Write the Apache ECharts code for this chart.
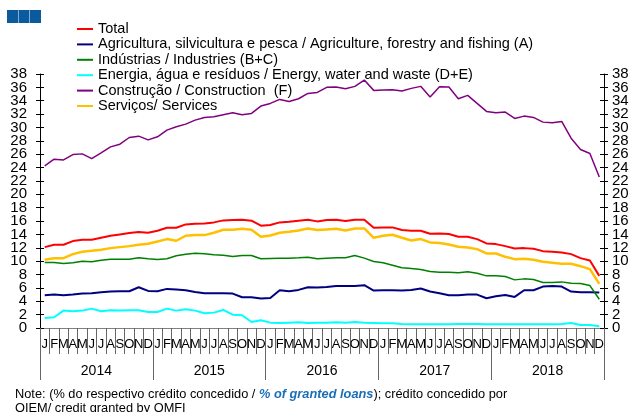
<!DOCTYPE html>
<html>
<head>
<meta charset="utf-8">
<script src="https://cdn.jsdelivr.net/npm/echarts@6/dist/echarts.min.js"></script>
<style>
  html, body { margin: 0; padding: 0; background: #fff; }
  #chart { width: 634px; height: 412px; }
</style>
</head>
<body>
<div id="chart"></div>
<script>
// months Jan 2014 .. Dec 2018
const monthLetters = ['J','F','M','A','M','J','J','A','S','O','N','D'];
const years = ['2014', '2015', '2016', '2017', '2018'];
const months = [];
years.forEach(y => monthLetters.forEach(m => months.push(m)));

const seriesNames = [
  'Total',
  'Agricultura, silvicultura e pesca / Agriculture, forestry and fishing (A)',
  'Indústrias / Industries (B+C)',
  'Energia, água e resíduos / Energy, water and waste (D+E)',
  'Construção / Construction  (F)',
  'Serviços/ Services'
];

const total = [
  12.1, 12.45, 12.45, 13.0, 13.2, 13.2, 13.5, 13.8, 14.0, 14.2, 14.35, 14.25,
  14.55, 15.0, 15.0, 15.5, 15.6, 15.65, 15.8, 16.1, 16.15, 16.2, 16.05, 15.3,
  15.4, 15.8, 15.9, 16.05, 16.2, 15.95, 16.15, 16.2, 16.0, 16.2, 16.2, 15.0,
  15.05, 15.05, 14.65, 14.55, 14.55, 14.1, 14.15, 14.05, 13.65, 13.65, 13.3, 12.65,
  12.55, 12.25, 11.9, 11.95, 11.85, 11.5, 11.4, 11.3, 11.05, 10.45, 10.1, 7.8
];
const agriculture = [
  4.9, 5.0, 4.9, 5.0, 5.15, 5.2, 5.35, 5.45, 5.5, 5.5, 6.1, 5.55,
  5.5, 5.85, 5.75, 5.65, 5.4, 5.2, 5.2, 5.2, 5.15, 4.6, 4.6, 4.4,
  4.5, 5.65, 5.5, 5.7, 6.1, 6.05, 6.15, 6.3, 6.3, 6.3, 6.4, 5.6,
  5.65, 5.65, 5.6, 5.7, 5.9, 5.45, 5.2, 4.9, 4.9, 5.0, 5.0, 4.45,
  4.75, 4.95, 4.65, 5.65, 5.65, 6.2, 6.3, 6.2, 5.45, 5.35, 5.35, 5.3
];
const industries = [
  9.8, 9.8, 9.65, 9.75, 10.0, 9.9, 10.15, 10.3, 10.3, 10.3, 10.5, 10.35,
  10.25, 10.35, 10.8, 11.05, 11.2, 11.1, 10.95, 10.9, 10.7, 10.85, 10.85, 10.35,
  10.4, 10.45, 10.45, 10.5, 10.6, 10.35, 10.45, 10.5, 10.5, 10.85, 10.45, 9.95,
  9.75, 9.4, 9.0, 8.9, 8.75, 8.45, 8.35, 8.35, 8.25, 8.4, 8.2, 7.8,
  7.8, 7.7, 7.2, 7.35, 7.25, 6.8, 6.8, 6.9, 6.7, 6.65, 6.35, 4.3
];
const energy = [
  1.5, 1.6, 2.6, 2.5, 2.6, 2.9, 2.5, 2.65, 2.6, 2.65, 2.65, 2.4,
  2.4, 2.9, 2.6, 2.8, 2.6, 2.2, 2.3, 2.7, 2.0, 1.9, 0.9, 1.15,
  0.8, 0.75, 0.8, 0.85, 0.75, 0.8, 0.8, 0.85, 0.8, 0.9, 0.8, 0.75,
  0.7, 0.7, 0.6, 0.55, 0.55, 0.55, 0.55, 0.55, 0.6, 0.6, 0.6, 0.55,
  0.55, 0.55, 0.55, 0.55, 0.55, 0.55, 0.55, 0.6, 0.75, 0.45, 0.45, 0.25
];
const construction = [
  24.25, 25.25, 25.15, 25.95, 26.05, 25.35, 26.2, 27.1, 27.5, 28.5, 28.7, 28.15,
  28.6, 29.6, 30.1, 30.5, 31.1, 31.5, 31.6, 31.9, 32.2, 31.9, 32.1, 33.2,
  33.6, 34.2, 33.9, 34.3, 35.1, 35.25, 36.0, 36.05, 35.8, 36.15, 37.1, 35.55,
  35.6, 35.65, 35.45, 35.85, 36.15, 34.55, 36.1, 36.05, 34.3, 34.8, 33.6, 32.4,
  32.2, 32.3, 31.35, 31.7, 31.5, 30.8, 30.7, 30.9, 28.4, 26.7, 26.1, 22.6
];
const services = [
  10.2, 10.45, 10.45, 11.05, 11.4, 11.55, 11.7, 11.95, 12.1, 12.25, 12.45, 12.6,
  12.95, 13.3, 13.05, 13.8, 13.9, 13.9, 14.25, 14.7, 14.7, 14.85, 14.7, 13.65,
  13.85, 14.25, 14.4, 14.6, 14.9, 14.65, 14.75, 14.85, 14.6, 14.9, 14.9, 13.5,
  13.8, 13.95, 13.5, 13.1, 13.3, 12.8, 12.7, 12.5, 12.15, 12.05, 11.8, 11.15,
  11.15, 10.65, 10.3, 10.35, 10.2, 9.9, 9.75, 9.6, 9.6, 9.25, 8.8, 6.6
];

const colors = ['#ff0000', '#000080', '#008000', '#00ffff', '#800080', '#ffc000'];
const widths = [2, 2, 1.5, 2, 1.5, 2.5];
const allData = [total, agriculture, industries, energy, construction, services];

const chart = echarts.init(document.getElementById('chart'));
const font = 'Liberation Sans, Arial, sans-serif';

const yBase = {
  type: 'value', min: 0, max: 38, interval: 2,
  splitLine: { show: false }
};
// labels are split over two axes per side (0,4,8.. and 2,6,10..) so
// echarts does not drop any of them for overlapping
const evenLabels = v => (v % 4 === 0 ? String(v) : '');
const oddLabels = v => (v % 4 === 2 ? String(v) : '');
const lab = { fontSize: 15, color: '#000', fontFamily: font };

chart.setOption({
  animation: false,
  textStyle: { fontFamily: font },
  grid: { left: 40, right: 30, top: 74, bottom: 84, containLabel: false },
  legend: {
    orient: 'vertical',
    left: 72, top: 16.5,
    icon: 'rect', itemWidth: 16, itemHeight: 2, itemGap: 0.4,
    textStyle: { fontSize: 14.5, color: '#000', lineHeight: 15, fontFamily: font },
    data: seriesNames
  },
  xAxis: [
    {
      type: 'category', data: months, boundaryGap: true,
      axisLine: { lineStyle: { color: '#808080', width: 1 } },
      axisTick: { show: true, interval: 0, length: 26, lineStyle: { color: '#666' } },
      axisLabel: { interval: 0, fontSize: 13, color: '#000', margin: 10, fontFamily: font, hideOverlap: false }
    },
    {
      type: 'category', data: years, boundaryGap: true, position: 'bottom',
      axisLine: { show: false },
      axisTick: { show: true, interval: 0, length: 52, lineStyle: { color: '#666' } },
      axisLabel: { interval: 0, fontSize: 14, color: '#000', margin: 36, fontFamily: font }
    }
  ],
  yAxis: [
    Object.assign({}, yBase, {
      position: 'left',
      axisLine: { show: true, lineStyle: { color: '#000' } },
      axisTick: { show: true, length: 4, lineStyle: { color: '#000' } },
      axisLabel: Object.assign({ margin: 13, formatter: evenLabels, showMinLabel: true }, lab)
    }),
    Object.assign({}, yBase, {
      position: 'right',
      axisLine: { show: true, lineStyle: { color: '#000' } },
      axisTick: { show: true, length: 4, lineStyle: { color: '#000' } },
      axisLabel: Object.assign({ margin: 8, formatter: evenLabels, showMinLabel: true }, lab)
    }),
    // helper axes: inner half of the crossing ticks + the other labels
    Object.assign({}, yBase, {
      position: 'left',
      axisLine: { show: false },
      axisTick: { show: true, inside: true, length: 4, lineStyle: { color: '#000' } },
      axisLabel: Object.assign({ margin: 13, formatter: oddLabels, showMaxLabel: true }, lab)
    }),
    Object.assign({}, yBase, {
      position: 'right',
      axisLine: { show: false },
      axisTick: { show: true, inside: true, length: 4, lineStyle: { color: '#000' } },
      axisLabel: Object.assign({ margin: 8, formatter: oddLabels, showMaxLabel: true }, lab)
    })
  ],
  series: seriesNames.map((name, i) => ({
    name: name,
    type: 'line',
    data: allData[i],
    showSymbol: false,
    color: colors[i],
    lineStyle: { color: colors[i], width: widths[i] }
  })),
  graphic: [
    { type: 'rect', left: 7, top: 10, shape: { width: 11, height: 13 }, style: { fill: '#0b5a9e' } },
    { type: 'rect', left: 18.5, top: 10, shape: { width: 11, height: 13 }, style: { fill: '#0b5a9e' } },
    { type: 'rect', left: 30, top: 10, shape: { width: 11, height: 13 }, style: { fill: '#0b5a9e' } },
    {
      type: 'text', left: 15, top: 388,
      style: {
        text: '{a|Note: (% do respectivo crédito concedido / }{b|% of granted loans}{a|); crédito concedido por}\n{a|OIEM/ credit granted by OMFI}',
        rich: {
          a: { fontSize: 12.8, fill: '#000', fontFamily: font, lineHeight: 14 },
          b: { fontSize: 12.8, fill: '#1a6fb8', fontWeight: 'bold', fontStyle: 'italic', fontFamily: font, lineHeight: 14 }
        }
      }
    }
  ]
});
</script>
</body>
</html>
